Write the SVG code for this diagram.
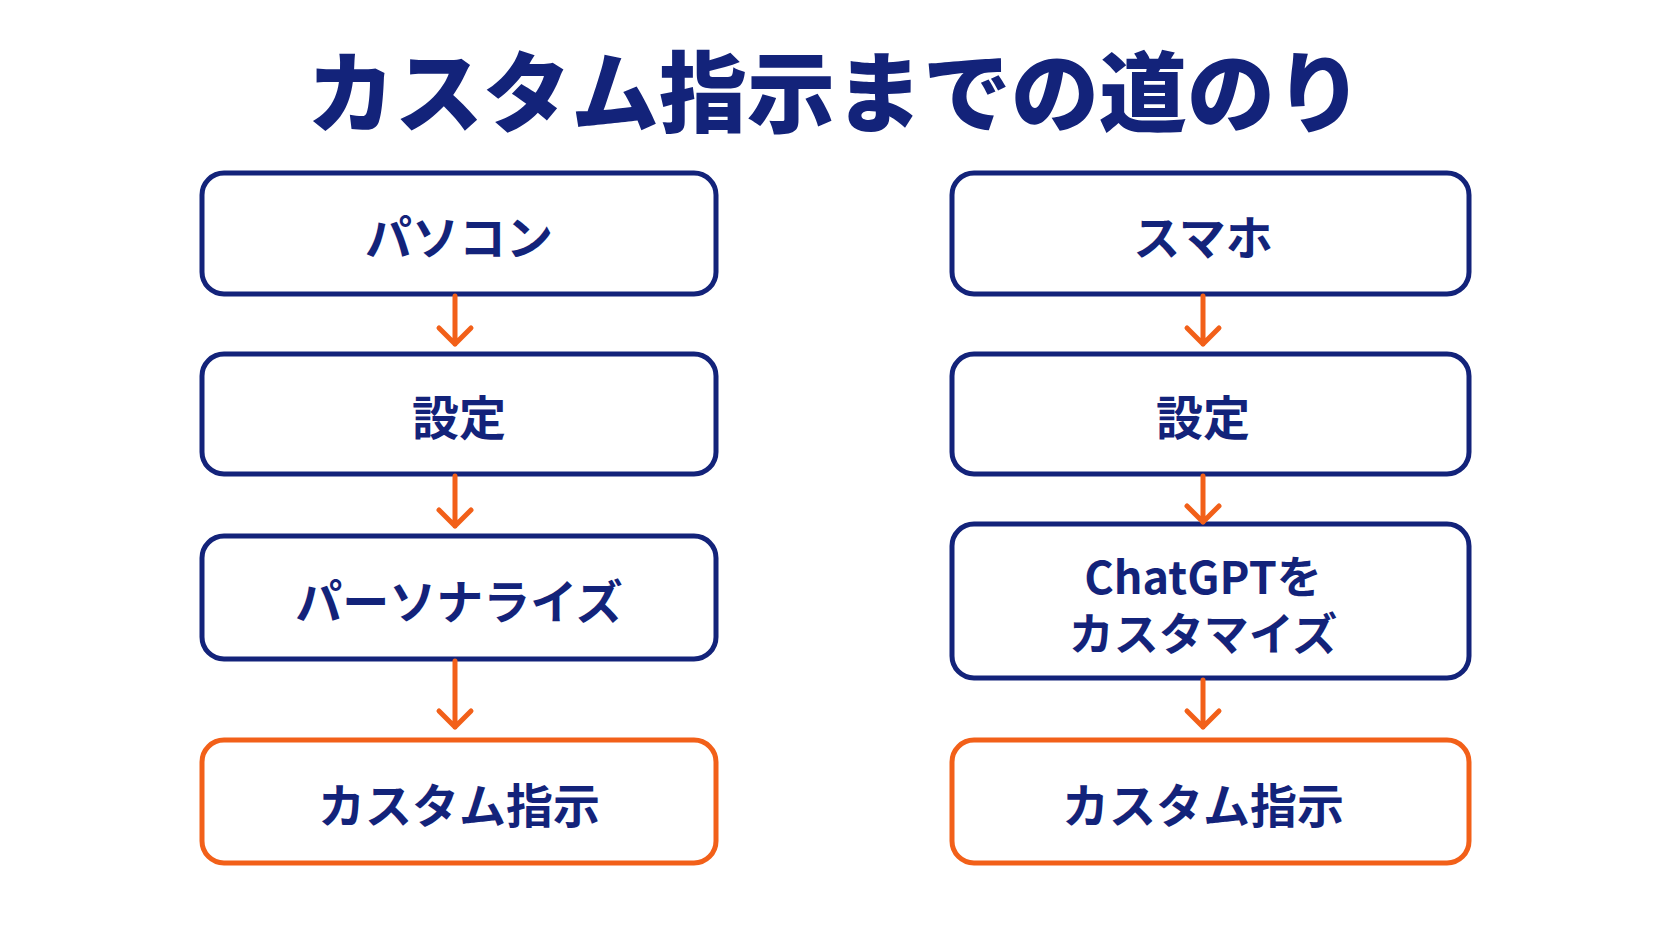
<svg xmlns="http://www.w3.org/2000/svg" width="1671" height="940" viewBox="0 0 1671 940">
<style>
.n{fill:#fff;stroke:#13237a;stroke-width:5}
.o{fill:#fff;stroke:#f26019;stroke-width:5}
.t{font-family:"Noto Sans CJK JP","Noto Sans",sans-serif;font-weight:bold;fill:#13237a;font-size:47px;text-anchor:middle;dominant-baseline:central}
.c{stroke:#f26019;stroke-width:5;fill:none;stroke-linecap:round;stroke-linejoin:round}
</style>
<rect width="1671" height="940" fill="#fff"/>
<text x="835" y="86" class="t" style="font-size:88px;font-weight:900">カスタム指示までの道のり</text>
<g id="l1"><rect class="n" x="202" y="173" width="514" height="121" rx="22"/><text class="t" x="459" y="234">パソコン</text></g>
<g id="l2"><rect class="n" x="202" y="354" width="514" height="120" rx="22"/><text class="t" x="459" y="414">設定</text></g>
<g id="l3"><rect class="n" x="202" y="536" width="514" height="123" rx="22"/><text class="t" x="459" y="598">パーソナライズ</text></g>
<g id="l4"><rect class="o" x="202" y="740" width="514" height="123" rx="22"/><text class="t" x="459" y="802">カスタム指示</text></g>
<g id="r1"><rect class="n" x="952" y="173" width="517" height="121" rx="22"/><text class="t" x="1203" y="234">スマホ</text></g>
<g id="r2"><rect class="n" x="952" y="354" width="517" height="120" rx="22"/><text class="t" x="1203" y="414">設定</text></g>
<g id="r3"><rect class="n" x="952" y="524" width="517" height="154" rx="22"/><text class="t" x="1203" y="574" style="font-size:45px">ChatGPTを</text><text class="t" x="1203" y="631" style="font-size:45px">カスタマイズ</text></g>
<g id="r4"><rect class="o" x="952" y="740" width="517" height="123" rx="22"/><text class="t" x="1203" y="802">カスタム指示</text></g>
<g id="connectors">
<path class="c" d="M455 296V344M439 328L455 344L471 328"/>
<path class="c" d="M455 476V526M439 510L455 526L471 510"/>
<path class="c" d="M455 661V727M439 711L455 727L471 711"/>
<path class="c" d="M1203 296V344M1187 328L1203 344L1219 328"/>
<path class="c" d="M1203 476V522M1187 506L1203 522L1219 506"/>
<path class="c" d="M1203 680V727M1187 711L1203 727L1219 711"/>
</g>
</svg>
